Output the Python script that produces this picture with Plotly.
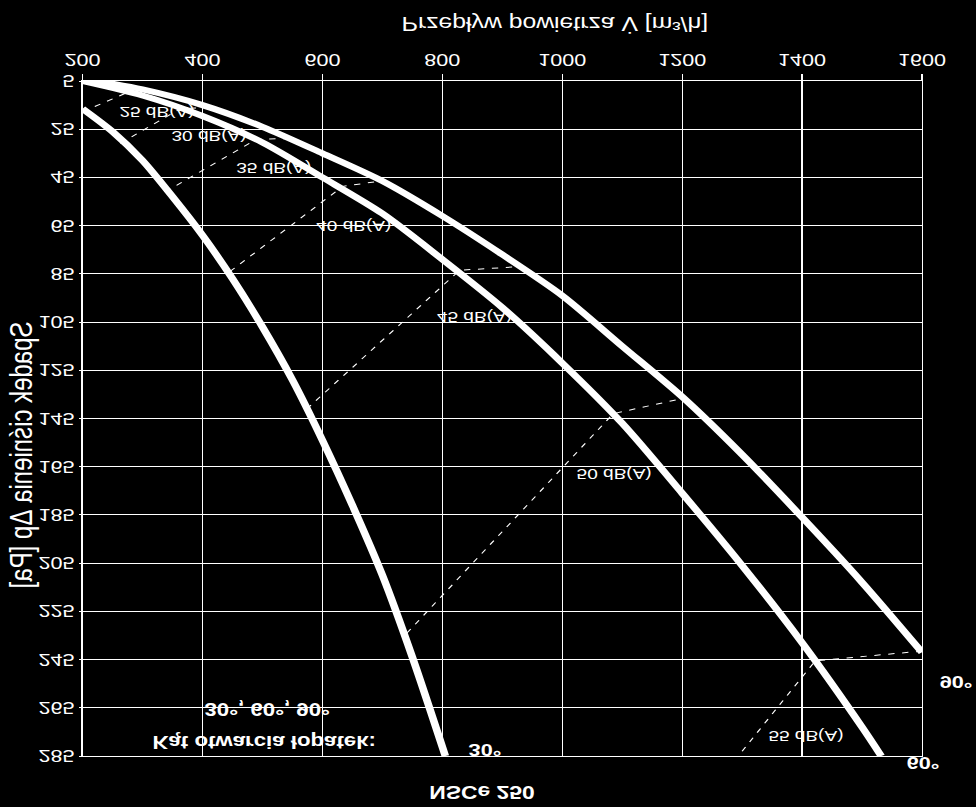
import plotly.graph_objects as go

# ---------------- data ----------------
flow_30 = [200, 250, 300, 350, 400, 450, 500, 550, 600, 650, 700, 750, 805]
dp_30 = [16.5, 26, 38, 53, 69, 87, 107, 129, 154, 181, 210, 244, 285]

flow_60 = [200, 300, 400, 500, 600, 700, 800, 900, 1000, 1100, 1200, 1300, 1400, 1500, 1532]
dp_60 = [5, 11, 19.5, 30.5, 45, 60, 79, 99, 122, 147, 176, 206, 238, 273, 285]

flow_90 = [200, 300, 400, 500, 600, 700, 800, 900, 1000, 1100, 1200, 1300, 1400, 1500, 1600]
dp_90 = [4, 8.5, 15, 24, 35, 46.5, 61, 77, 94, 115, 136, 160, 186, 213, 242]

noise_levels = ["25 dB(A)", "30 dB(A)", "35 dB(A)", "40 dB(A)", "45 dB(A)", "50 dB(A)", "55 dB(A)"]
noise_flow = [[200, 278, 308], [263, 363, 410], [338, 490, 553], [446, 634, 700],
              [574, 829, 930], [741, 1085, 1195], [1300, 1422, 1600]]
noise_dp = [[17.8, 9.4, 9], [30.9, 16.5, 16], [51, 29.2, 28.8], [84, 48.7, 46.4],
            [141, 83.5, 82], [234, 143, 137], [283, 245.5, 241.5]]
noise_label_flow = [324, 411, 518, 652, 854, 1086, 1407]
noise_label_dp = [18.2, 28.1, 41.3, 65.2, 102.9, 168.3, 277]

x_ticks = [200, 400, 600, 800, 1000, 1200, 1400, 1600]
x_range = [200, 1600]
y_range = [5, 285]
y_tick0 = 5
y_dtick = 20

title_text = "NSCe 250"
x_title = "Przepływ powietrza V\u0307 [m³/h]"
y_title = "Spadek ciśnienia Δp [Pa]"
angle_title = "Kąt otwarcia łopatek:"
angle_list = "30°, 60°, 90°"

# ---------------- geometry / style ----------------
SX = 1.27          # horizontal stretch of the reference picture
FIG_W, FIG_H = 976, 807
W0 = FIG_W / SX
FONT = "Liberation Sans, Arial, sans-serif"

fig = go.Figure()

for fx, fy in zip(noise_flow, noise_dp):
    fig.add_trace(go.Scatter(x=fx, y=fy, mode="lines",
                             line=dict(color="white", width=1, dash="5px,6px"),
                             hoverinfo="skip", showlegend=False))

for fx, fy in [(flow_30, dp_30), (flow_60, dp_60), (flow_90, dp_90)]:
    fig.add_trace(go.Scatter(x=fx, y=fy, mode="lines",
                             line=dict(color="white", width=6, shape="spline", smoothing=0.8),
                             hoverinfo="skip", showlegend=False))

ann = []
for txt, fx, fy in zip(noise_levels, noise_label_flow, noise_label_dp):
    ann.append(dict(x=fx, y=fy, xref="x", yref="y", text=txt, showarrow=False,
                    xanchor="center", yanchor="middle",
                    font=dict(family=FONT, size=15, color="white")))

bold = dict(family=FONT, size=17, color="white")
ann += [
    dict(x=840, y=282.5, xref="x", yref="y", text="<b>30°</b>", showarrow=False,
         xanchor="left", yanchor="middle", font=bold),
    dict(x=1570, y=1.009, xref="x", yref="paper", text="<b>60°</b>", showarrow=False,
         xanchor="left", yanchor="middle", font=bold),
    dict(x=1.018, y=254, xref="paper", yref="y", text="<b>90°</b>", showarrow=False,
         xanchor="left", yanchor="middle", font=bold),
    dict(x=503, y=279, xref="x", yref="y", text="<b>" + angle_title + "</b>", showarrow=False,
         xanchor="center", yanchor="middle", font=dict(family=FONT, size=17.5, color="white")),
    dict(x=509, y=265.4, xref="x", yref="y", text="<b>" + angle_list + "</b>", showarrow=False,
         xanchor="center", yanchor="middle", font=dict(family=FONT, size=17.5, color="white")),
    dict(x=0.476, y=1.0526, xref="paper", yref="paper", text="<b>" + title_text + "</b>",
         showarrow=False, xanchor="center", yanchor="middle",
         font=dict(family=FONT, size=18, color="white")),
    dict(x=0.5634, y=-0.084, xref="paper", yref="paper", text=x_title,
         showarrow=False, xanchor="center", yanchor="middle",
         font=dict(family=FONT, size=19.5, color="white")),
    dict(x=-0.0735, y=0.554, xref="paper", yref="paper", text=y_title, textangle=-90,
         showarrow=False, xanchor="center", yanchor="middle",
         font=dict(family=FONT, size=24, color="white")),
]

axis_common = dict(showgrid=True, gridcolor="white", gridwidth=1, zeroline=False,
                   showline=True, mirror=True, linecolor="white", linewidth=1,
                   ticks="outside", tickcolor="white", tickwidth=1,
                   tickfont=dict(family=FONT, size=17, color="white"))

fig.update_layout(
    width=W0, height=FIG_H,
    margin=dict(l=82.7 / SX, r=(FIG_W - 921) / SX, t=51, b=80.7, pad=0),
    paper_bgcolor="black", plot_bgcolor="black",
    showlegend=False,
    xaxis=dict(range=x_range, tickvals=x_ticks, ticklen=6, **axis_common),
    yaxis=dict(range=y_range, tick0=y_tick0, dtick=y_dtick, tickmode="linear", ticklen=2,
               **axis_common),
    annotations=ann,
)

post = """
document.body.style.margin = '0';
document.body.style.background = 'black';
document.body.style.overflow = 'hidden';
var gd = document.getElementById('{plot_id}');
gd.style.transformOrigin = '0 0';
gd.style.transform = 'matrix(%s, 0, 0, -1, 0, %d)';
""" % (SX, FIG_H)

fig.write_html("out.html", post_script=post, config={"displayModeBar": False})
